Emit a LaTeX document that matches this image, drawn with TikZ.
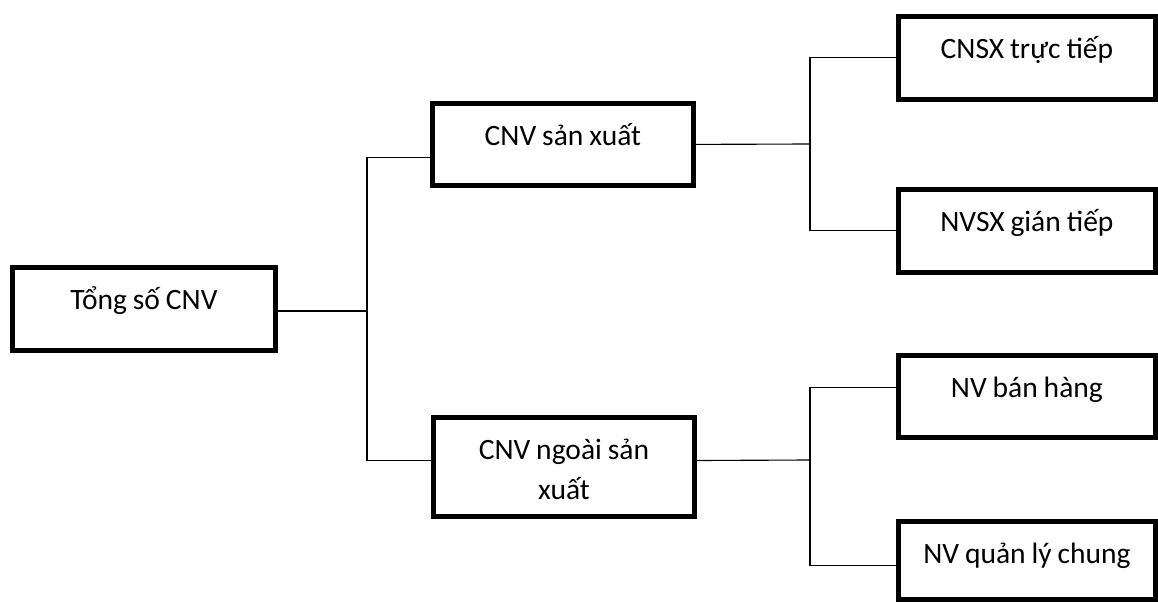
\documentclass[tikz,border=0pt]{standalone}
\usepackage{fontspec}
\setmainfont{Carlito}
\usepackage{tikz}
\usetikzlibrary{positioning, calc}

\begin{document}
\begin{tikzpicture}[
  x=0.025cm, y=-0.025cm,
  box/.style   = {rectangle, draw=black, line width=3.4pt, fill=white,
                  anchor=north west, inner sep=0pt, align=center,
                  font=\fontsize{21}{28.5}\selectfont,
                  execute at begin node={\spaceskip=0.2em\relax},
                  text height=1.05cm, text depth=1.025cm},
  midbox/.style  = {box, text width=6.525cm},
  leafbox/.style = {box, text width=6.425cm},
  link/.style  = {draw=black, line width=0.8pt}
]
\useasboundingbox (0,0) rectangle (1158,604);

% ── Root ─────────────────────────────────────────────────────────────────────
\node[box, text width=6.575cm] (total) at (10,265) {Tổng số CNV};

% ── Second level ─────────────────────────────────────────────────────────────
\node[midbox, text depth=1.0cm] (prod)    at (430,101) {CNV sản xuất};
\node[midbox, text depth=1.425cm] (nonprod) at (431,415) {CNV ngoài sản\\xuất};

% ── Leaves ───────────────────────────────────────────────────────────────────
\node[leafbox] (direct)   at (896,14)  {CNSX trực tiếp};
\node[leafbox] (indirect) at (896,187) {NVSX gián tiếp};
\node[leafbox, text depth=1.0cm] (sales) at (896,353) {NV bán hàng};
\node[leafbox, text depth=0.9cm] (admin) at (896,519) {NV quản lý chung};

% ── Fork points ──────────────────────────────────────────────────────────────
\coordinate (forkL) at (367,311);
\coordinate (forkP) at (810,144);
\coordinate (forkN) at (810,460);

% ── Root to second level ─────────────────────────────────────────────────────
\draw[link] (total.east |- forkL) -- (forkL);
\draw[link] ([yshift=-0.33cm]prod.west) -| (forkL) |- ([yshift=0.16cm]nonprod.west);

% ── Second level to leaves ───────────────────────────────────────────────────
\draw[link] (prod.east) -- (forkP);
\draw[link] (direct.west) -| (forkP) |- (indirect.west);
\draw[link] ([yshift=0.16cm]nonprod.east) -- (forkN);
\draw[link] ([yshift=0.225cm]sales.west) -| (forkN) |- ([yshift=-0.125cm]admin.west);
\end{tikzpicture}
\end{document}
